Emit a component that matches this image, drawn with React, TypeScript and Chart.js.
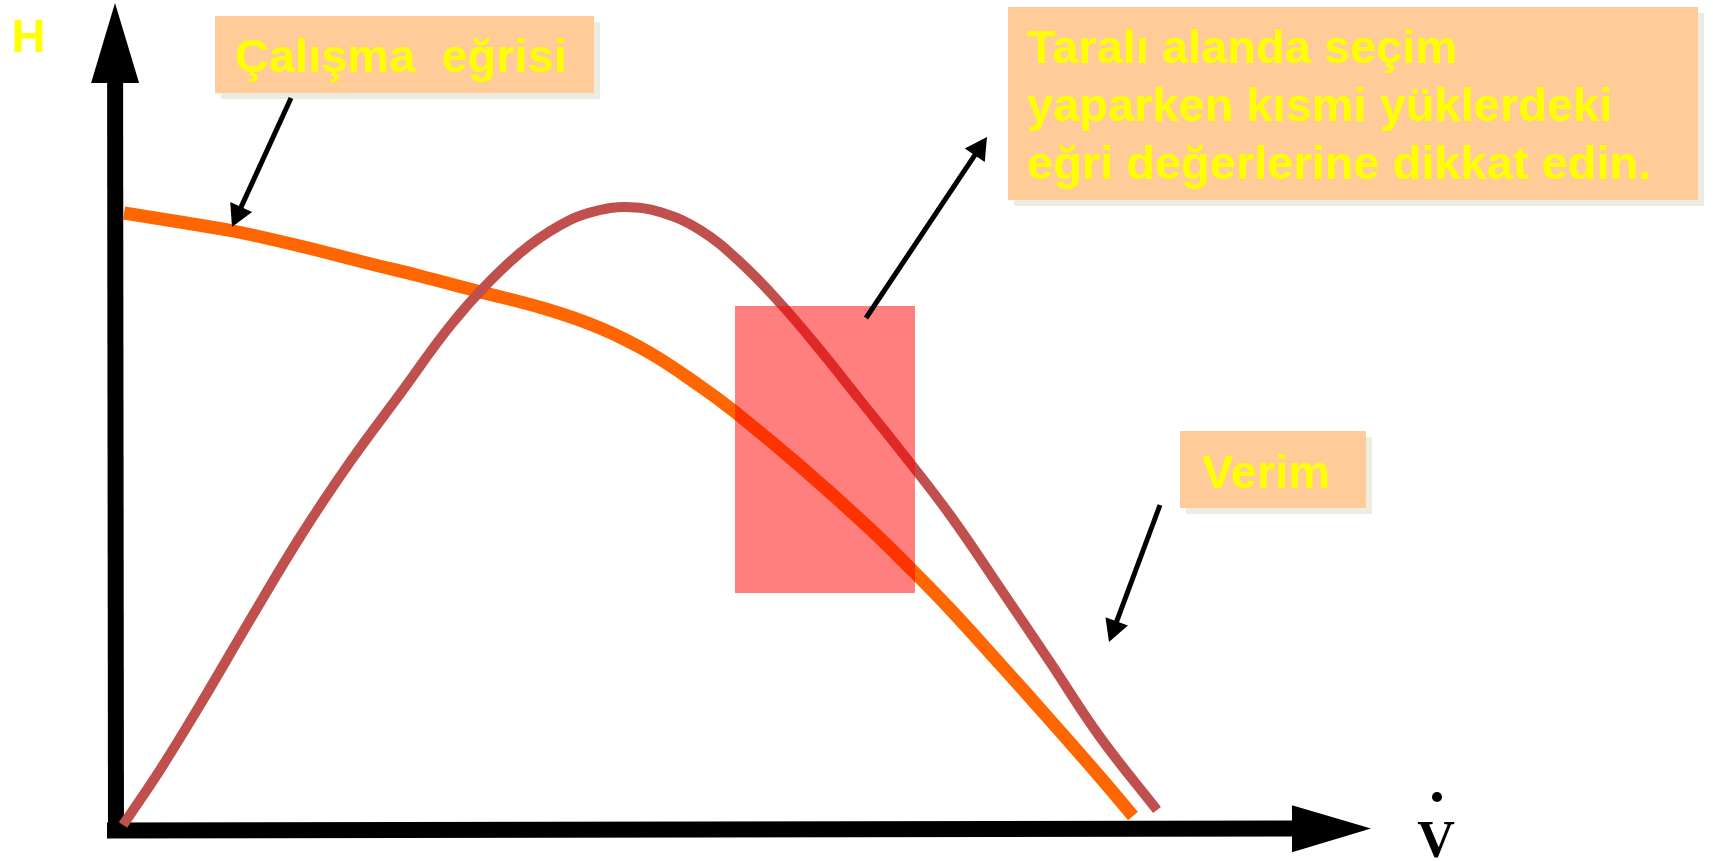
import { useEffect, useRef } from "react";
import { Chart, registerables } from "chart.js";

Chart.register(...registerables);

// Efficiency curve (Verim): flow rate V̇ and value, chart units
const efficiencyFlow = [0.7, 4.4, 8.4, 13.4, 18.4, 23.4, 28.4, 33.4, 37.4, 41.4, 45.4, 48.4, 50.9, 54.4, 58.4, 62.4, 66.4, 70.4, 74.4, 78.4, 83.4, 88.4, 93.4, 98.4, 104.1];
const efficiencyValue = [0.5, 6.0, 12.5, 21.0, 29.3, 36.8, 43.6, 50.4, 54.9, 58.5, 61.0, 62.0, 62.3, 61.8, 60.0, 56.8, 52.7, 48.0, 43.0, 38.0, 31.5, 24.2, 16.8, 9.3, 2.0];

// Operating curve (Çalışma eğrisi): flow rate V̇ and head H, chart units
const operatingFlow = [0.8, 6.4, 11.7, 18.4, 25.1, 30.4, 36.1, 43.0, 48.4, 53.4, 58.4, 61.9, 68.4, 75.1, 79.7, 83.4, 88.4, 93.4, 98.4, 101.7];
const operatingHead = [61.7, 60.8, 59.9, 58.4, 56.7, 55.4, 53.9, 52.1, 50.2, 47.7, 44.4, 41.8, 36.4, 30.4, 25.9, 22.1, 16.6, 11.0, 5.3, 1.4];

// Shaded selection region: flow from/to and head from/to
const selectionFlow = [61.9, 79.9];
const selectionHead = [23.7, 52.4];

// Visible extent of both axes
const flowRange = [-11.6, 159.7];
const headRange = [-3.1, 83.0];

// Texts
const headLabel = "H";
const flowLabel = "V";
const operatingLabel = "Çalışma  eğrisi";
const efficiencyLabel = "Verim";
const noteLines = ["Taralı alanda seçim", "yaparken kısmi yüklerdeki", "eğri değerlerine dikkat edin."];

const W = 1713;
const H = 861;
const TEXT_FONT = "bold 47px 'Liberation Sans', Arial, sans-serif";
const BOX_FILL = "#FFCC99";
const BOX_SHADOW = "#EEECE1";
const TEXT_COLOR = "#FFFF00";

type Pt = [number, number];

function arrow(
  ctx: CanvasRenderingContext2D,
  from: Pt,
  to: Pt,
  width: number,
  headLen: number,
  headW: number,
  color = "#000"
) {
  const dx = to[0] - from[0];
  const dy = to[1] - from[1];
  const len = Math.hypot(dx, dy);
  const ux = dx / len;
  const uy = dy / len;
  const bx = to[0] - ux * headLen;
  const by = to[1] - uy * headLen;
  ctx.save();
  ctx.strokeStyle = color;
  ctx.fillStyle = color;
  ctx.lineWidth = width;
  ctx.lineCap = "butt";
  ctx.beginPath();
  ctx.moveTo(from[0], from[1]);
  ctx.lineTo(bx + ux * 1, by + uy * 1);
  ctx.stroke();
  ctx.beginPath();
  ctx.moveTo(to[0], to[1]);
  ctx.lineTo(bx - uy * headW / 2, by + ux * headW / 2);
  ctx.lineTo(bx + uy * headW / 2, by - ux * headW / 2);
  ctx.closePath();
  ctx.fill();
  ctx.restore();
}

function box(ctx: CanvasRenderingContext2D, x: number, y: number, w: number, h: number) {
  ctx.fillStyle = BOX_SHADOW;
  ctx.fillRect(x + 6, y + 6, w, h);
  ctx.fillStyle = BOX_FILL;
  ctx.fillRect(x, y, w, h);
}

const diagramPlugin = {
  id: "pumpDiagram",
  beforeDatasetsDraw(chart: any) {
    const ctx: CanvasRenderingContext2D = chart.ctx;
    const xs = chart.scales.x;
    const ys = chart.scales.y;
    const ox = xs.getPixelForValue(0);
    const oy = ys.getPixelForValue(0);
    // Head axis (H) and flow axis (V̇) as thick arrows
    arrow(ctx, [ox, oy + 8], [ox - 1, 3], 16, 80, 48);
    arrow(ctx, [ox - 9, oy + 0.5], [1371, oy - 1.5], 16, 79, 47);

    ctx.save();
    ctx.fillStyle = TEXT_COLOR;
    ctx.font = TEXT_FONT;
    ctx.textBaseline = "alphabetic";
    ctx.fillText(headLabel, 11.5, 52);

    ctx.fillStyle = "#000";
    ctx.font = "bold 52px 'Liberation Serif', 'Times New Roman', serif";
    ctx.textAlign = "center";
    ctx.fillText(flowLabel, 1436, 857);
    ctx.beginPath();
    ctx.arc(1437, 797, 5, 0, Math.PI * 2);
    ctx.fill();
    ctx.restore();
  },
  afterDatasetsDraw(chart: any) {
    const ctx: CanvasRenderingContext2D = chart.ctx;
    const xs = chart.scales.x;
    const ys = chart.scales.y;

    // Shaded selection band over the curves
    const x0 = xs.getPixelForValue(selectionFlow[0]);
    const x1 = xs.getPixelForValue(selectionFlow[1]);
    const y0 = ys.getPixelForValue(selectionHead[1]);
    const y1 = ys.getPixelForValue(selectionHead[0]);
    ctx.save();
    ctx.fillStyle = "rgba(255, 0, 0, 0.5)";
    ctx.fillRect(x0, y0, x1 - x0, y1 - y0);
    ctx.restore();

    // Callout boxes
    ctx.save();
    box(ctx, 215, 16, 379, 77);
    box(ctx, 1008, 7, 690, 193);
    box(ctx, 1180, 431, 186, 77);
    ctx.fillStyle = TEXT_COLOR;
    ctx.font = TEXT_FONT;
    ctx.textBaseline = "alphabetic";
    ctx.fillText(operatingLabel, 235, 72);
    ctx.fillText(efficiencyLabel, 1202, 488);
    noteLines.forEach((line, i) => ctx.fillText(line, 1027, 63 + i * 58));
    ctx.restore();

    // Pointer arrows
    arrow(ctx, [291, 98], [232, 227], 5, 22, 24);
    arrow(ctx, [866, 318], [987, 137], 5, 22, 24);
    arrow(ctx, [1160, 505], [1109, 642], 5, 22, 24);
  },
};

export default function App() {
  const canvasRef = useRef<HTMLCanvasElement | null>(null);

  useEffect(() => {
    const canvas = canvasRef.current;
    if (!canvas) return;
    const toPoints = (xs: number[], ys: number[]) => xs.map((x, i) => ({ x, y: ys[i] }));
    const chart = new Chart(canvas, {
      type: "line",
      data: {
        datasets: [
          {
            label: efficiencyLabel,
            data: toPoints(efficiencyFlow, efficiencyValue),
            borderColor: "#C0504D",
            borderWidth: 10,
            pointRadius: 0,
            fill: false,
            tension: 0.4,
            borderCapStyle: "butt",
            borderJoinStyle: "round",
          },
          {
            label: operatingLabel,
            data: toPoints(operatingFlow, operatingHead),
            borderColor: "#FF6600",
            borderWidth: 13,
            pointRadius: 0,
            fill: false,
            tension: 0.4,
            borderCapStyle: "butt",
            borderJoinStyle: "round",
          },
        ],
      },
      options: {
        animation: false,
        responsive: false,
        devicePixelRatio: 1,
        layout: { padding: 0 },
        plugins: { legend: { display: false }, tooltip: { enabled: false }, title: { display: false } },
        scales: {
          x: { type: "linear", min: flowRange[0], max: flowRange[1], display: false },
          y: { type: "linear", min: headRange[0], max: headRange[1], display: false },
        },
      },
      plugins: [diagramPlugin],
    });
    return () => chart.destroy();
  }, []);

  return (
    <div style={{ position: "absolute", left: 0, top: 0, width: W, height: H, background: "#fff" }}>
      <canvas ref={canvasRef} width={W} height={H} style={{ display: "block", width: W, height: H }} />
    </div>
  );
}
